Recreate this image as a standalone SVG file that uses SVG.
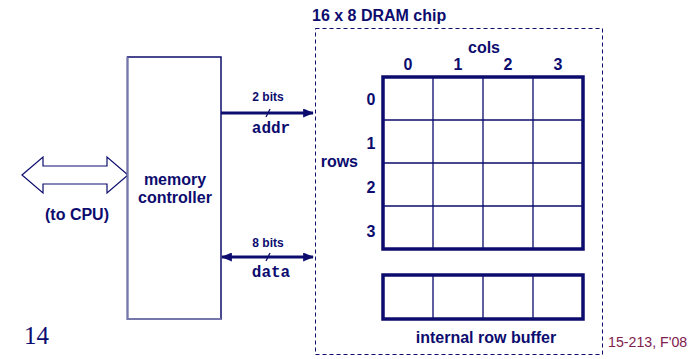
<svg xmlns="http://www.w3.org/2000/svg" width="698" height="359" viewBox="0 0 698 359">
<style>
.t{font-family:"Liberation Sans",Arial,sans-serif;font-weight:bold;fill:#0c0c6e}
.m{font-family:"Liberation Mono","Courier New",monospace;font-weight:bold;fill:#0c0c6e}
.thick{fill:none;stroke:#0c0c6e;stroke-width:3.5}
.thin{fill:none;stroke:#0c0c6e;stroke-width:1.3}
.conn{fill:none;stroke:#0c0c6e;stroke-width:3}
</style>
<defs>
<marker id="ah" viewBox="0 0 12 10" refX="11" refY="5" markerWidth="3.6" markerHeight="3" orient="auto-start-reverse" markerUnits="strokeWidth">
<path d="M0,0 L12,5 L0,10 z" fill="#0c0c6e"/>
</marker>
</defs>
<rect width="698" height="359" fill="#ffffff"/>

<g id="cpu-link">
<path d="M22,175 L43,157 L43,166 L107,166 L107,157 L128,175 L107,193 L107,184 L43,184 L43,193 Z" fill="#ffffff" stroke="#0c0c6e" stroke-width="1.2"/>
<text class="t" x="77" y="220" font-size="16" text-anchor="middle">(to CPU)</text>
</g>

<g id="memory-controller">
<rect x="127.5" y="57" width="93.5" height="262" fill="#ffffff" stroke="#0c0c6e" stroke-width="1.5"/>
<path d="M127.5,57 L127.5,319 L221,319" fill="none" stroke="#7676aa" stroke-width="1.8"/>
<text class="t" x="175" y="185" font-size="16" text-anchor="middle">memory</text>
<text class="t" x="175" y="203" font-size="16" text-anchor="middle">controller</text>
</g>

<g id="dram-chip">
<rect x="315.5" y="28.5" width="287" height="326" fill="none" stroke="#0c0c6e" stroke-width="1" stroke-dasharray="4,3"/>
<text class="t" x="312" y="21" font-size="16">16 x 8 DRAM chip</text>
</g>

<g id="cell-array">
<text class="t" x="484" y="53" font-size="16" text-anchor="middle">cols</text>
<text class="t" x="408" y="70" font-size="16" text-anchor="middle">0</text>
<text class="t" x="458" y="70" font-size="16" text-anchor="middle">1</text>
<text class="t" x="508" y="70" font-size="16" text-anchor="middle">2</text>
<text class="t" x="558" y="70" font-size="16" text-anchor="middle">3</text>
<text class="t" x="358" y="167" font-size="16" text-anchor="end">rows</text>
<text class="t" x="371" y="105" font-size="16" text-anchor="middle">0</text>
<text class="t" x="371" y="149" font-size="16" text-anchor="middle">1</text>
<text class="t" x="371" y="193" font-size="16" text-anchor="middle">2</text>
<text class="t" x="371" y="237" font-size="16" text-anchor="middle">3</text>
<path class="thin" d="M433,77 V249 M483,77 V249 M533,77 V249 M383,120 H583 M383,163 H583 M383,206 H583"/>
<rect class="thick" x="383" y="77" width="200" height="172"/>
</g>

<g id="row-buffer">
<path class="thin" d="M433,275 V319 M483,275 V319 M533,275 V319"/>
<rect class="thick" x="383" y="275" width="200" height="44"/>
<text class="t" x="486" y="343" font-size="16" text-anchor="middle">internal row buffer</text>
</g>

<g id="connectors">
<line class="conn" x1="221" y1="113" x2="313" y2="113" marker-end="url(#ah)"/>
<line class="conn" x1="222" y1="257" x2="313" y2="257" marker-start="url(#ah)" marker-end="url(#ah)"/>
<line x1="266" y1="117" x2="270" y2="109" stroke="#0c0c6e" stroke-width="1.3"/>
<line x1="266" y1="261" x2="270" y2="253" stroke="#0c0c6e" stroke-width="1.3"/>
<text class="t" x="268" y="101" font-size="12" text-anchor="middle">2 bits</text>
<text class="m" x="271" y="133" font-size="16" text-anchor="middle">addr</text>
<text class="t" x="268" y="247" font-size="12" text-anchor="middle">8 bits</text>
<text class="m" x="271" y="277" font-size="16" text-anchor="middle">data</text>
</g>

<g id="footer">
<text x="24" y="344" font-family="'Liberation Serif','Times New Roman',serif" font-size="25" fill="#0c0c6e">14</text>
<text x="608" y="347" font-family="'Liberation Sans',Arial,sans-serif" font-size="14.2" fill="#80204c">15-213, F'08</text>
</g>
</svg>
